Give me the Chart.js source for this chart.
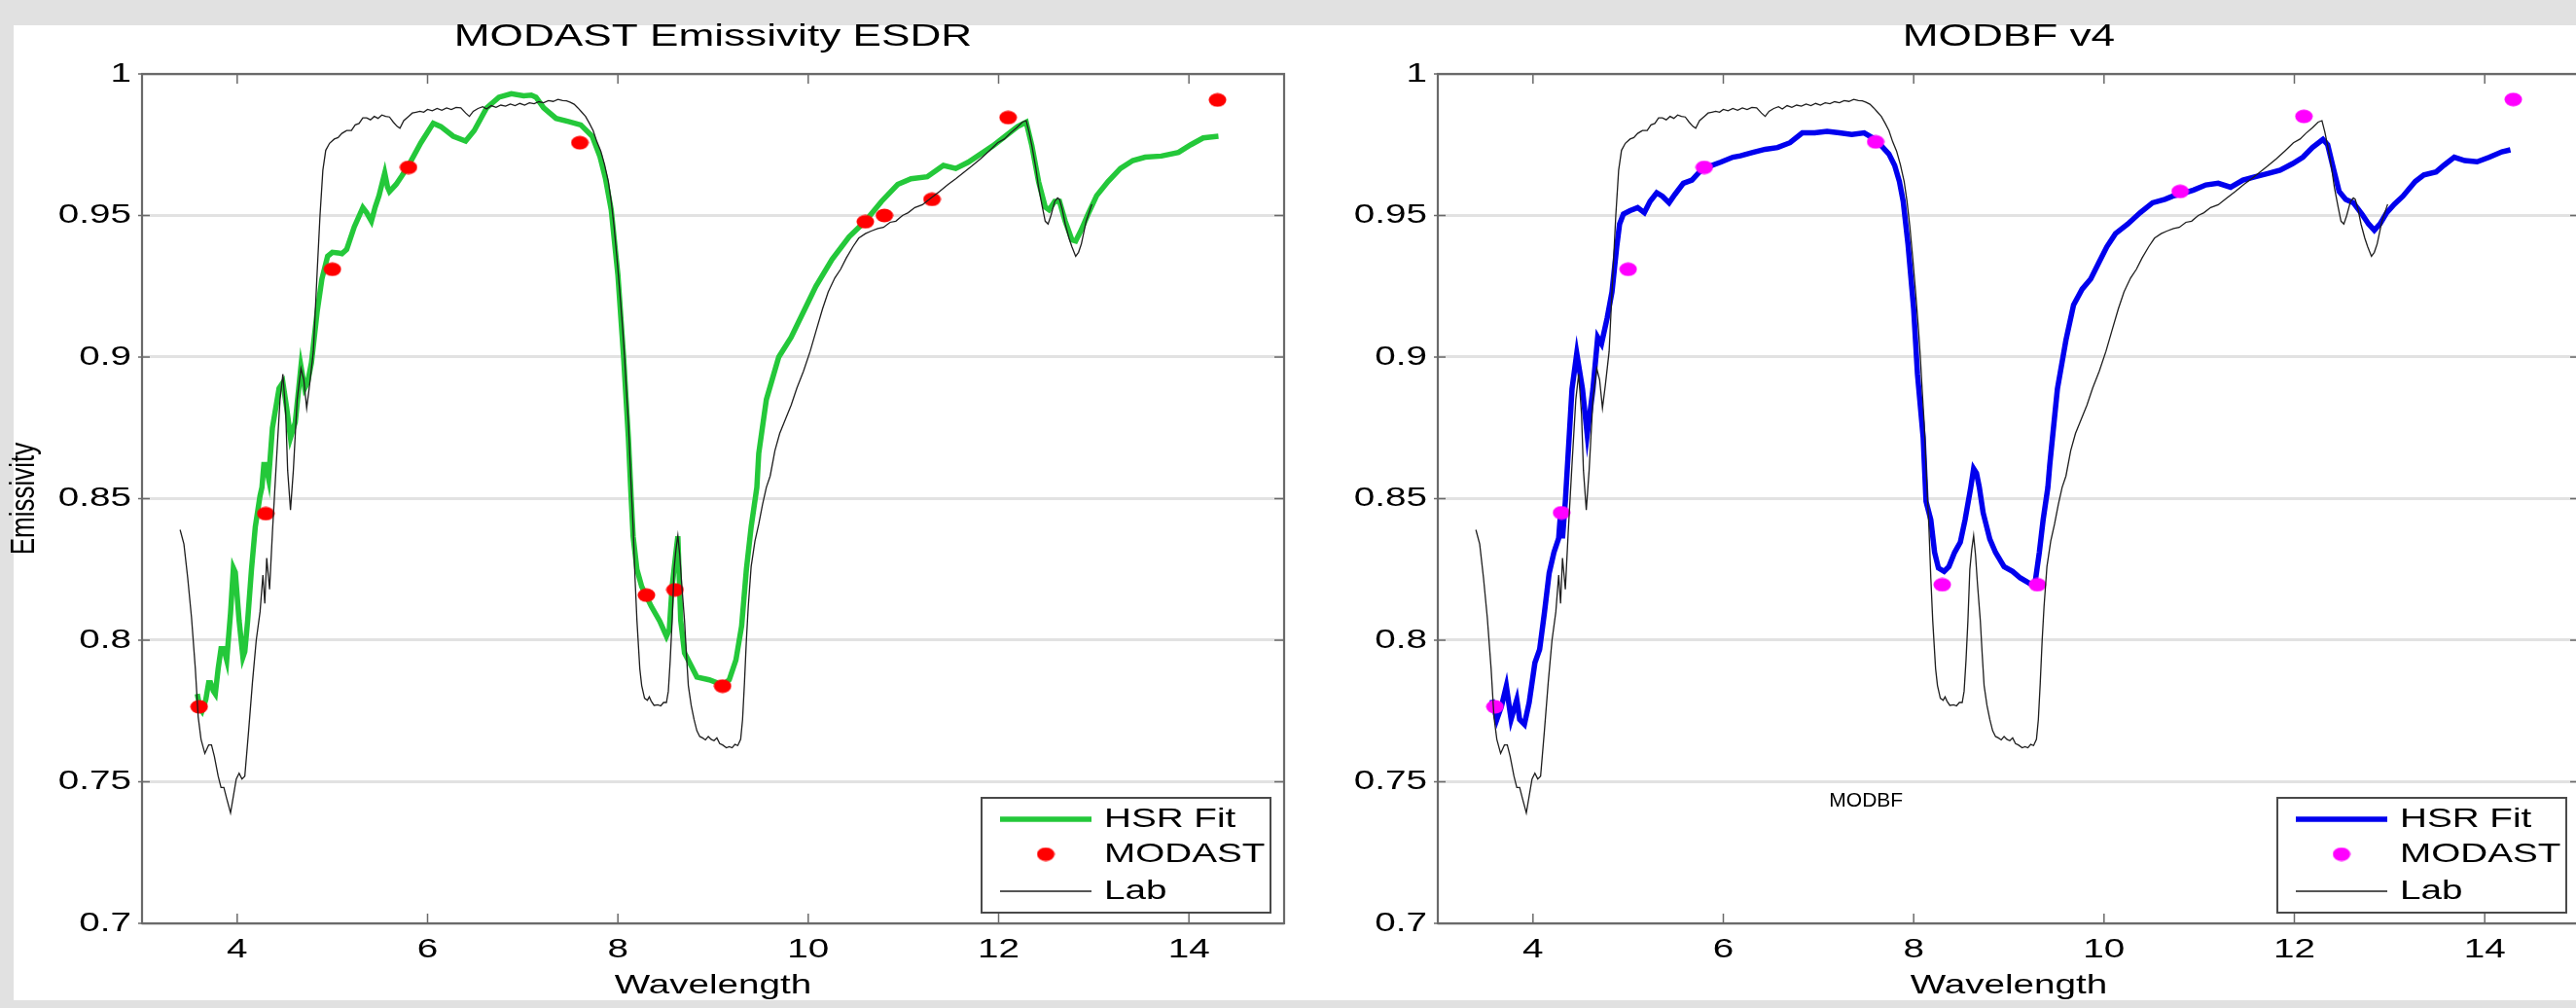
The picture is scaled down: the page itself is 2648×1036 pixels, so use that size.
<!DOCTYPE html>
<html><head><meta charset="utf-8">
<script src="https://cdn.jsdelivr.net/npm/chart.js@4.4.1/dist/chart.umd.min.js"></script>
<style>
html,body{margin:0;padding:0;width:2648px;height:1036px;overflow:hidden;background:#e1e1e1;}
#panel{position:absolute;left:14px;top:26px;width:2634px;height:1002px;background:#fff;}
#c1{position:absolute;left:0;top:0;width:1330px;height:1036px;}
#c2{position:absolute;left:1330px;top:0;width:1340px;height:1036px;}
</style></head><body>
<div id="panel"></div>
<canvas id="c1" width="1330" height="1036"></canvas>
<canvas id="c2" width="1340" height="1036"></canvas>
<script>
// ---------------- DATA ----------------
const xTicks = [4, 6, 8, 10, 12, 14];
const yTicks = [0.7, 0.75, 0.8, 0.85, 0.9, 0.95, 1];

const labWavelength = [3.40,3.44,3.48,3.52,3.56,3.59,3.62,3.66,3.70,3.73,3.76,3.80,3.83,3.86,3.89,3.93,3.96,3.99,4.02,4.05,4.08,4.12,4.16,4.20,4.24,4.27,4.29,4.31,4.34,4.37,4.41,4.45,4.48,4.51,4.53,4.56,4.59,4.63,4.67,4.70,4.73,4.76,4.80,4.84,4.87,4.90,4.93,4.97,5.02,5.06,5.10,5.15,5.20,5.24,5.28,5.32,5.36,5.40,5.44,5.48,5.52,5.56,5.60,5.64,5.68,5.71,5.75,5.80,5.84,5.88,5.92,5.96,6.00,6.05,6.10,6.15,6.20,6.25,6.30,6.35,6.40,6.44,6.48,6.53,6.58,6.62,6.67,6.72,6.77,6.82,6.87,6.92,6.97,7.02,7.07,7.12,7.17,7.22,7.27,7.32,7.37,7.42,7.46,7.50,7.54,7.58,7.62,7.66,7.70,7.74,7.78,7.82,7.86,7.90,7.93,7.96,7.99,8.02,8.05,8.07,8.09,8.11,8.14,8.16,8.18,8.20,8.23,8.25,8.28,8.31,8.33,8.35,8.38,8.42,8.45,8.48,8.51,8.53,8.55,8.57,8.59,8.61,8.63,8.65,8.67,8.70,8.72,8.74,8.77,8.80,8.83,8.86,8.89,8.92,8.95,8.98,9.01,9.04,9.07,9.10,9.14,9.17,9.20,9.23,9.26,9.29,9.31,9.33,9.35,9.37,9.40,9.44,9.48,9.52,9.56,9.60,9.65,9.70,9.76,9.82,9.88,9.95,10.02,10.08,10.15,10.21,10.28,10.34,10.40,10.47,10.53,10.60,10.66,10.73,10.79,10.86,10.92,10.99,11.05,11.12,11.20,11.29,11.38,11.47,11.55,11.64,11.72,11.81,11.90,11.99,12.06,12.12,12.19,12.25,12.29,12.32,12.35,12.39,12.42,12.46,12.49,12.52,12.55,12.59,12.62,12.64,12.67,12.70,12.74,12.77,12.81,12.84,12.87,12.92,12.98];
const labEmissivity = [0.839,0.834,0.822,0.808,0.790,0.773,0.765,0.760,0.763,0.763,0.759,0.752,0.748,0.748,0.744,0.739,0.745,0.751,0.753,0.751,0.752,0.768,0.785,0.800,0.810,0.823,0.813,0.829,0.818,0.838,0.862,0.885,0.894,0.880,0.860,0.846,0.860,0.885,0.896,0.892,0.882,0.890,0.902,0.930,0.950,0.966,0.973,0.9755,0.977,0.9775,0.979,0.980,0.980,0.982,0.9825,0.9845,0.9845,0.9838,0.985,0.9843,0.9855,0.985,0.9848,0.983,0.9815,0.9808,0.9835,0.985,0.9862,0.9865,0.9868,0.9865,0.9875,0.987,0.9878,0.9872,0.988,0.9874,0.9882,0.988,0.9862,0.985,0.9868,0.9878,0.9884,0.9876,0.9888,0.9882,0.989,0.9886,0.9894,0.9888,0.9896,0.989,0.9898,0.9895,0.9902,0.9898,0.9906,0.9903,0.991,0.9906,0.9905,0.990,0.9893,0.988,0.9865,0.985,0.9826,0.980,0.976,0.9728,0.968,0.962,0.955,0.946,0.935,0.923,0.910,0.900,0.888,0.877,0.854,0.840,0.822,0.807,0.790,0.784,0.7795,0.7788,0.780,0.7785,0.777,0.7772,0.7768,0.778,0.778,0.782,0.793,0.807,0.825,0.832,0.837,0.830,0.820,0.807,0.795,0.784,0.777,0.772,0.768,0.766,0.7655,0.7648,0.766,0.765,0.7645,0.7655,0.7635,0.763,0.762,0.7624,0.762,0.7632,0.7628,0.765,0.772,0.785,0.800,0.812,0.826,0.835,0.841,0.848,0.854,0.858,0.867,0.873,0.878,0.883,0.889,0.895,0.902,0.909,0.917,0.923,0.928,0.931,0.935,0.939,0.942,0.9436,0.9445,0.9454,0.9458,0.9476,0.948,0.950,0.951,0.9528,0.9538,0.9562,0.9585,0.961,0.963,0.9654,0.9675,0.970,0.9728,0.9757,0.977,0.979,0.981,0.983,0.9835,0.9795,0.9746,0.967,0.960,0.953,0.948,0.947,0.950,0.955,0.9562,0.9557,0.952,0.947,0.942,0.939,0.9356,0.937,0.940,0.948,0.954];

const esdrWavelength = [3.58,3.61,3.63,3.67,3.70,3.72,3.75,3.77,3.80,3.83,3.86,3.89,3.93,3.96,3.98,4.02,4.06,4.08,4.11,4.15,4.19,4.24,4.26,4.28,4.30,4.33,4.37,4.44,4.48,4.52,4.56,4.61,4.67,4.71,4.74,4.78,4.84,4.89,4.95,5.00,5.06,5.10,5.15,5.23,5.32,5.36,5.41,5.45,5.49,5.55,5.58,5.60,5.67,5.73,5.80,5.93,6.06,6.14,6.27,6.40,6.49,6.62,6.75,6.88,7.01,7.09,7.14,7.22,7.35,7.48,7.61,7.73,7.81,7.87,7.93,8.00,8.06,8.11,8.14,8.16,8.20,8.25,8.30,8.35,8.44,8.51,8.54,8.57,8.61,8.63,8.66,8.70,8.77,8.83,8.96,9.04,9.09,9.17,9.24,9.30,9.35,9.40,9.46,9.48,9.56,9.69,9.82,9.95,10.08,10.25,10.43,10.60,10.77,10.94,11.08,11.25,11.42,11.55,11.68,11.81,11.94,12.07,12.20,12.29,12.35,12.42,12.49,12.53,12.59,12.64,12.70,12.77,12.81,12.87,12.94,13.03,13.15,13.28,13.41,13.54,13.71,13.89,14.02,14.15,14.31];
const esdrEmissivity = [0.781,0.776,0.775,0.779,0.785,0.785,0.782,0.781,0.790,0.797,0.797,0.793,0.8096,0.8255,0.824,0.807,0.794,0.796,0.807,0.825,0.840,0.851,0.854,0.862,0.862,0.857,0.875,0.889,0.891,0.882,0.8715,0.877,0.8967,0.889,0.891,0.898,0.916,0.9276,0.9356,0.937,0.9368,0.9365,0.938,0.946,0.9528,0.951,0.948,0.953,0.957,0.965,0.960,0.9585,0.961,0.964,0.9677,0.9757,0.9826,0.9814,0.978,0.9763,0.980,0.988,0.9918,0.993,0.9923,0.9925,0.9918,0.988,0.9843,0.9832,0.982,0.978,0.971,0.963,0.952,0.929,0.900,0.8715,0.850,0.8367,0.825,0.819,0.8155,0.812,0.8067,0.8014,0.8037,0.819,0.831,0.8367,0.807,0.7955,0.791,0.787,0.786,0.785,0.7838,0.786,0.793,0.805,0.825,0.840,0.854,0.866,0.885,0.900,0.907,0.916,0.925,0.9345,0.9425,0.948,0.955,0.961,0.963,0.9637,0.9677,0.9666,0.9688,0.9717,0.9746,0.978,0.9814,0.983,0.9746,0.962,0.953,0.952,0.955,0.955,0.948,0.9414,0.941,0.945,0.9505,0.957,0.962,0.9666,0.9694,0.9706,0.971,0.9723,0.975,0.9774,0.978];

const bfWavelength = [3.57,3.62,3.67,3.72,3.77,3.83,3.86,3.91,3.96,4.02,4.07,4.12,4.17,4.22,4.27,4.29,4.31,4.34,4.41,4.46,4.52,4.57,4.63,4.68,4.72,4.78,4.83,4.88,4.91,4.95,5.02,5.10,5.17,5.23,5.30,5.36,5.43,5.49,5.58,5.67,5.75,5.88,5.97,6.10,6.18,6.31,6.44,6.57,6.70,6.83,6.96,7.09,7.22,7.35,7.48,7.57,7.65,7.74,7.80,7.85,7.89,7.94,8.00,8.04,8.10,8.13,8.18,8.22,8.26,8.32,8.37,8.43,8.49,8.54,8.60,8.63,8.66,8.69,8.73,8.80,8.86,8.95,9.04,9.12,9.21,9.27,9.32,9.36,9.41,9.43,9.51,9.60,9.68,9.77,9.86,9.94,10.03,10.12,10.25,10.38,10.51,10.64,10.72,10.81,10.94,11.07,11.20,11.33,11.46,11.59,11.72,11.85,11.98,12.09,12.19,12.30,12.35,12.41,12.47,12.54,12.62,12.71,12.78,12.84,12.90,12.97,13.05,13.14,13.27,13.36,13.49,13.57,13.68,13.79,13.92,14.05,14.18,14.27];
const bfEmissivity = [0.779,0.772,0.7768,0.7838,0.772,0.779,0.772,0.7703,0.778,0.792,0.7968,0.8097,0.8237,0.831,0.836,0.845,0.836,0.849,0.8887,0.9013,0.8887,0.8726,0.8887,0.907,0.9047,0.9139,0.923,0.939,0.947,0.9505,0.9517,0.9528,0.951,0.955,0.958,0.9568,0.9545,0.9574,0.9614,0.9625,0.9654,0.9677,0.9688,0.9706,0.9711,0.9723,0.9734,0.974,0.9757,0.9792,0.9792,0.9797,0.9792,0.9786,0.9792,0.9774,0.975,0.9717,0.9677,0.962,0.955,0.940,0.917,0.894,0.8715,0.849,0.8425,0.831,0.8255,0.8243,0.826,0.831,0.8346,0.8425,0.854,0.8606,0.859,0.854,0.845,0.8357,0.831,0.826,0.8243,0.822,0.8202,0.819,0.831,0.8425,0.854,0.862,0.8887,0.906,0.9184,0.924,0.9276,0.933,0.939,0.9436,0.947,0.951,0.9545,0.9557,0.9568,0.9576,0.959,0.9608,0.9614,0.960,0.9625,0.9637,0.9648,0.966,0.9683,0.9706,0.974,0.9769,0.975,0.9666,0.9585,0.9557,0.9545,0.9505,0.947,0.9448,0.947,0.951,0.954,0.9568,0.962,0.9643,0.9654,0.9677,0.9706,0.9694,0.969,0.9706,0.9725,0.9732];

const modastWavelengthA = [3.6,4.3,5.0,5.8,7.6,8.3,8.6,9.1,10.6,10.8,11.3,12.1,14.3];
const modastEmissivityA = [0.7765,0.8447,0.931,0.967,0.9757,0.8159,0.8178,0.7838,0.9478,0.950,0.9557,0.9846,0.9908];
const modastWavelengthB = [3.6,4.3,5.0,5.8,7.6,8.3,9.3,10.8,12.1,14.3];
const modastEmissivityB = [0.7765,0.845,0.931,0.967,0.976,0.8196,0.8196,0.9585,0.985,0.991];

// ---------------- HELPERS ----------------
const FONT = '"Liberation Sans", Arial, Helvetica, sans-serif';
const STRETCH = 1.38;
Chart.defaults.font.family = FONT;
Chart.defaults.color = '#000';

function pts(xs, ys) { return xs.map((x, i) => ({x: x, y: ys[i]})); }

function ellipseDot(color) {
  const c = document.createElement('canvas');
  c.width = 19; c.height = 15;
  const g = c.getContext('2d');
  g.fillStyle = color;
  g.beginPath();
  g.ellipse(9.5, 7.5, 9, 7, 0, 0, Math.PI * 2);
  g.fill();
  return c;
}

function stretchContext(ctx, sx) {
  const orig = ctx.fillText.bind(ctx);
  ctx._plainFillText = orig;
  ctx.fillText = function (text, x, y, maxWidth) {
    const m = ctx.getTransform();
    const p = m.transformPoint(new DOMPoint(x, y));
    ctx.save();
    ctx.setTransform(new DOMMatrix().translate(p.x, p.y).scale(sx, 1).translate(-p.x, -p.y).multiply(m));
    orig(text, x, y, maxWidth);
    ctx.restore();
  };
}

const framePlugin = {
  id: 'frame',
  afterDatasetsDraw(chart) {
    const {ctx, chartArea: a, scales: {x, y}} = chart;
    ctx.save();
    ctx.strokeStyle = '#6a6a6a';
    ctx.lineWidth = 1.5;
    ctx.beginPath();
    x.ticks.forEach(t => {
      const px = x.getPixelForValue(t.value);
      ctx.moveTo(px, a.bottom); ctx.lineTo(px, a.bottom - 10);
      ctx.moveTo(px, a.top); ctx.lineTo(px, a.top + 10);
    });
    y.ticks.forEach(t => {
      const py = y.getPixelForValue(t.value);
      ctx.moveTo(a.left - 4, py); ctx.lineTo(a.left + 8, py);
      ctx.moveTo(a.right, py); ctx.lineTo(a.right - 10, py);
    });
    ctx.stroke();
    ctx.lineWidth = 2.2;
    ctx.strokeRect(a.left, a.top, a.right - a.left, a.bottom - a.top);
    ctx.restore();
  }
};

const legendPlugin = {
  id: 'boxLegend',
  afterDraw(chart, args, opts) {
    const {ctx, chartArea: a} = chart;
    const w = 297, h = 118;
    const x1 = a.right - 14 - w, y1 = a.bottom - 11 - h;
    ctx.save();
    ctx.fillStyle = '#fff';
    ctx.fillRect(x1, y1, w, h);
    ctx.strokeStyle = '#4a4a4a';
    ctx.lineWidth = 2;
    ctx.strokeRect(x1, y1, w, h);
    ctx.font = '28px ' + FONT;
    ctx.textBaseline = 'middle';
    ctx.textAlign = 'left';
    const rows = [22, 58, 96];
    chart.data.datasets.forEach((ds, i) => {
      const cy = y1 + rows[i];
      if (ds.showLine === false) {
        const img = ds.pointStyle;
        ctx.drawImage(img, x1 + 66 - img.width / 2, cy - img.height / 2);
      } else {
        ctx.strokeStyle = ds.borderColor;
        ctx.lineWidth = ds.borderWidth;
        ctx.beginPath();
        ctx.moveTo(x1 + 19, cy); ctx.lineTo(x1 + 113, cy);
        ctx.stroke();
      }
      ctx.fillStyle = '#000';
      ctx.fillText(ds.label, x1 + 126, cy);
    });
    if (opts && opts.note) {
      const px = chart.scales.x.getPixelForValue(opts.note.x);
      const py = chart.scales.y.getPixelForValue(opts.note.y);
      ctx.font = '21px ' + FONT;
      ctx.textAlign = 'center';
      ctx.fillStyle = '#000';
      ctx._plainFillText(opts.note.text, px, py);
    }
    ctx.restore();
  }
};

function makeChart(canvasId, title, fitData, fitColor, mWl, mVal, dotColor, yWidth, rightPad, yTitle, note) {
  const canvas = document.getElementById(canvasId);
  const ctx = canvas.getContext('2d');
  stretchContext(ctx, STRETCH);
  return new Chart(ctx, {
    type: 'line',
    data: {
      datasets: [
        {label: 'HSR Fit', data: fitData, borderColor: fitColor, borderWidth: 5.5, pointRadius: 0, tension: 0, order: 3},
        {label: 'MODAST', data: pts(mWl, mVal), showLine: false, pointStyle: ellipseDot(dotColor), pointRadius: 8, pointHoverRadius: 8, backgroundColor: dotColor, borderColor: dotColor, order: 2},
        {label: 'Lab', data: pts(labWavelength, labEmissivity), borderColor: '#1e1e1e', borderWidth: 1.3, pointRadius: 0, tension: 0, order: 1}
      ]
    },
    options: {
      responsive: false,
      devicePixelRatio: 1,
      animation: false,
      events: [],
      layout: {padding: {left: 0, right: rightPad, top: 0, bottom: 0}},
      plugins: {
        legend: {display: false},
        tooltip: {enabled: false},
        title: {display: true, fullSize: false, text: title, color: '#000', font: {size: 32, weight: 'normal', family: FONT}, padding: {top: 19, bottom: 18.6}},
        boxLegend: {note: note}
      },
      scales: {
        x: {
          type: 'linear', position: 'bottom', min: 3, max: 15,
          grid: {display: false, drawTicks: false},
          border: {display: false},
          afterBuildTicks: s => { s.ticks = xTicks.map(v => ({value: v})); },
          ticks: {font: {size: 28}, color: '#000', padding: 10, maxRotation: 0, callback: v => String(v)},
          title: {display: true, text: 'Wavelength', color: '#000', font: {size: 28}, padding: {top: 0, bottom: 6}},
          afterFit: s => { s.height = 87; }
        },
        y: {
          type: 'linear', position: 'left', min: 0.7, max: 1,
          grid: {color: '#e2e2e2', lineWidth: 3, drawTicks: false},
          border: {display: false},
          afterBuildTicks: s => { s.ticks = yTicks.map(v => ({value: v})); },
          ticks: {font: {size: 28}, color: '#000', padding: 11, callback: v => String(+Number(v).toFixed(2))},
          title: {display: !!yTitle, text: yTitle || '', color: '#000', font: {size: 26}, padding: {top: 10, bottom: 0}},
          afterFit: s => { s.width = yWidth; }
        }
      }
    },
    plugins: [framePlugin, legendPlugin]
  });
}

makeChart('c1', 'MODAST Emissivity ESDR', pts(esdrWavelength, esdrEmissivity), '#24c83a',
  modastWavelengthA, modastEmissivityA, '#ff0000', 146, 10, 'Emissivity', null);
makeChart('c2', 'MODBF v4', pts(bfWavelength, bfEmissivity), '#0000ee',
  modastWavelengthB, modastEmissivityB, '#ff00ff', 148, 18, '', {text: 'MODBF', x: 7.5, y: 0.7433});
</script></body></html>
